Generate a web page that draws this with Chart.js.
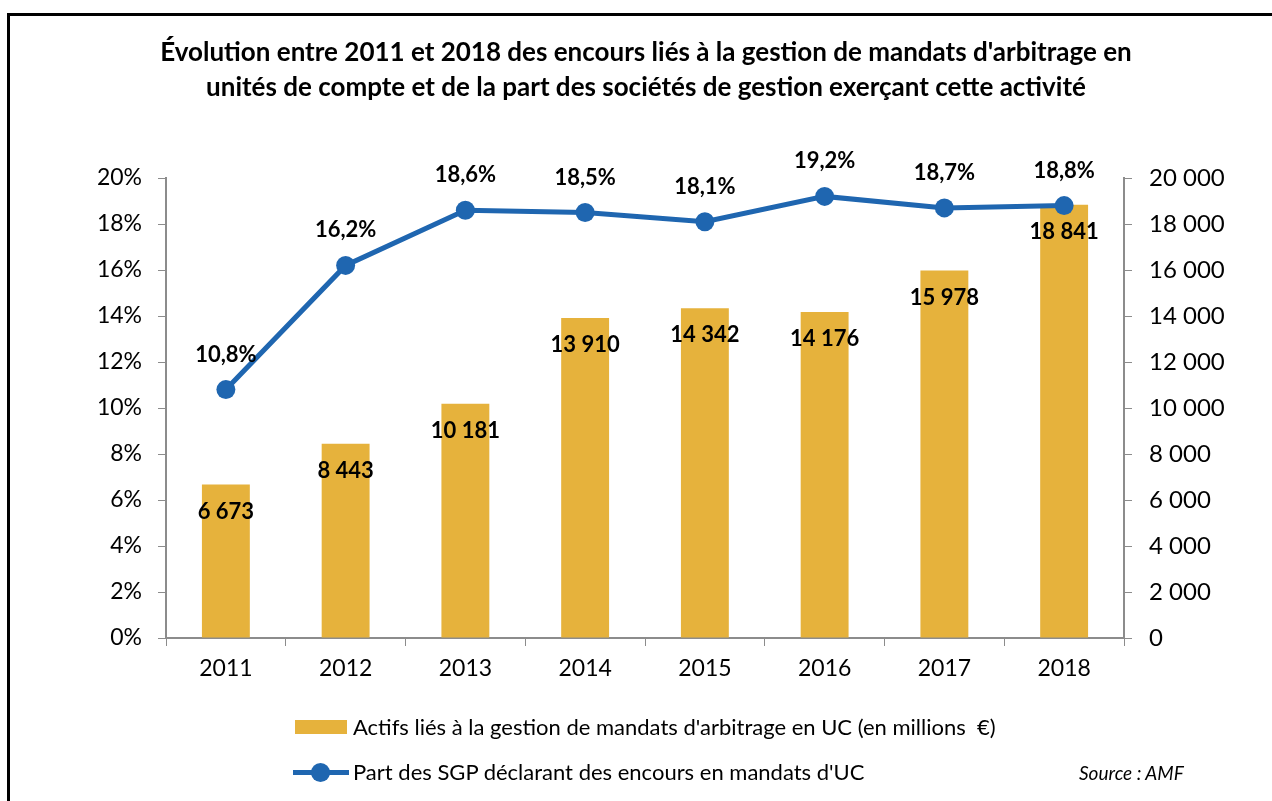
<!DOCTYPE html>
<html>
<head>
<meta charset="utf-8">
<script src="https://cdn.jsdelivr.net/npm/chart.js@4.4.0/dist/chart.umd.min.js"></script>
<style>
body{margin:0;background:#fff;font-family:Lato,sans-serif;}
#wrap{position:relative;width:1272px;height:801px;overflow:hidden;}
#cadre{position:absolute;left:7px;top:13px;width:1400px;height:900px;border-left:3px solid #000;border-top:3px solid #000;}
#titre{position:absolute;left:0;width:1292px;top:34px;text-align:center;font-weight:bold;font-size:26px;line-height:35px;color:#000;}
canvas{position:absolute;left:0;top:0;}
.leg{position:absolute;left:353px;font-size:22px;color:#000;line-height:26px;}
#source{position:absolute;left:1079px;top:761px;font-size:19px;font-style:italic;}
</style>
</head>
<body>
<div id="wrap">
  <canvas id="graphique" width="1272" height="801"></canvas>
  <div id="cadre"></div>
  <div id="titre">Évolution entre 2011 et 2018 des encours liés à la gestion de mandats d'arbitrage en<br>unités de compte et de la part des sociétés de gestion exerçant cette activité</div>
  <div style="position:absolute;left:295px;top:720px;width:52px;height:14px;background:#E6B23C"></div>
  <div class="leg" style="top:714px">Actifs liés à la gestion de mandats d'arbitrage en UC (en millions&nbsp; €)</div>
  <div style="position:absolute;left:293px;top:770px;width:56px;height:5px;background:#1F66B0"></div>
  <div style="position:absolute;left:311px;top:763px;width:19px;height:19px;border-radius:50%;background:#1F66B0"></div>
  <div class="leg" style="top:759px">Part des SGP déclarant des encours en mandats d'UC</div>
  <div id="source">Source : AMF</div>
</div>
<script>
const annees = ['2011', '2012', '2013', '2014', '2015', '2016', '2017', '2018'];
const actifs = [6673, 8443, 10181, 13910, 14342, 14176, 15978, 18841];
const partSGP = [10.8, 16.2, 18.6, 18.5, 18.1, 19.2, 18.7, 18.8];

const jaune = '#E6B23C';
const bleu = '#1F66B0';
const gris = '#8C8C8C';

function milliers(v){
    return String(Math.round(v)).replace(/\B(?=(\d{3})+(?!\d))/g, ' ');
}

const etiquettes = {
    id: 'etiquettes',
    afterDatasetsDraw(chart){
        const ctx = chart.ctx;
        ctx.save();
        ctx.font = 'bold 22px Lato';
        ctx.fillStyle = '#000';
        ctx.textAlign = 'center';
        ctx.textBaseline = 'middle';
        chart.getDatasetMeta(0).data.forEach(function(barre, i){
            ctx.fillText(milliers(actifs[i]), barre.x, barre.y + 27);
        });
        chart.getDatasetMeta(1).data.forEach(function(pt, i){
            ctx.fillText(partSGP[i].toFixed(1).replace('.', ',') + '%', pt.x, pt.y - 35);
        });
        ctx.restore();
    }
};

new Chart(document.getElementById('graphique'), {
    type: 'bar',
    data: {
        labels: annees,
        datasets: [{
            type: 'bar',
            label: "Actifs liés à la gestion de mandats d'arbitrage en UC (en millions  €)",
            data: actifs,
            yAxisID: 'y1',
            backgroundColor: jaune,
            barPercentage: 0.4,
            categoryPercentage: 1.0,
            order: 2
        }, {
            type: 'line',
            label: "Part des SGP déclarant des encours en mandats d'UC",
            data: partSGP,
            yAxisID: 'y',
            borderColor: bleu,
            backgroundColor: bleu,
            borderWidth: 5,
            pointRadius: 9.5,
            pointBackgroundColor: bleu,
            pointBorderWidth: 0,
            tension: 0,
            order: 1
        }]
    },
    options: {
        responsive: false,
        animation: false,
        layout: { padding: { top: 178, left: 0, right: 0, bottom: 0 } },
        plugins: {
            legend: { display: false },
            tooltip: { enabled: false }
        },
        scales: {
            x: {
                afterFit: function(s){ s.height = 163; },
                grid: { drawOnChartArea: false, tickLength: 8, color: gris, offset: true },
                border: { color: gris, width: 2 },
                ticks: { color: '#000', font: { family: 'Lato', size: 23 }, padding: 9 }
            },
            y: {
                position: 'left',
                min: 0, max: 20,
                afterFit: function(s){ s.width = 166; },
                grid: { drawOnChartArea: false, tickLength: 8, color: gris },
                border: { color: gris, width: 2 },
                ticks: {
                    stepSize: 2,
                    color: '#000',
                    font: { family: 'Lato', size: 23 },
                    padding: 16,
                    callback: function(v){ return Math.round(v) + '%'; }
                }
            },
            y1: {
                position: 'right',
                min: 0, max: 20000,
                afterFit: function(s){ s.width = 148; },
                grid: { drawOnChartArea: false, tickLength: 8, color: gris },
                border: { color: gris, width: 2 },
                ticks: {
                    stepSize: 2000,
                    color: '#000',
                    font: { family: 'Lato', size: 24 },
                    padding: 17,
                    callback: function(v){ return milliers(v); }
                }
            }
        }
    },
    plugins: [etiquettes]
});
</script>
</body>
</html>
